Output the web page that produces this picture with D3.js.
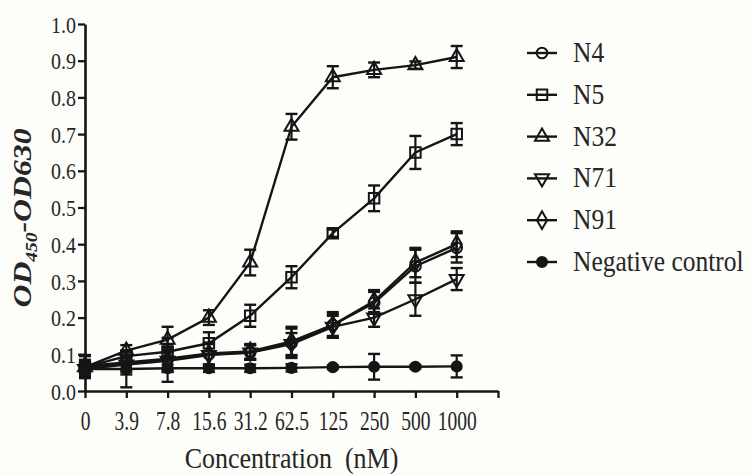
<!DOCTYPE html>
<html><head><meta charset="utf-8">
<script src="https://cdn.jsdelivr.net/npm/d3@7"></script>
<style>body{margin:0;background:#fdfdfa;} svg{display:block;} text{font-family:"Liberation Serif", serif;}</style>
</head><body>
<script>
const categories = ["0","3.9","7.8","15.6","31.2","62.5","125","250","500","1000"];
const yTickValues = [0,0.1,0.2,0.3,0.4,0.5,0.6,0.7,0.8,0.9,1.0];
const seriesNames = ["N4","N5","N32","N71","N91","Negative control"];
const N4  = [0.065,0.075,0.085,0.100,0.105,0.130,0.180,0.240,0.340,0.390];
const N5  = [0.065,0.095,0.107,0.130,0.205,0.310,0.430,0.525,0.650,0.700];
const N32 = [0.065,0.110,0.140,0.200,0.350,0.720,0.855,0.875,0.888,0.910];
const N71 = [0.060,0.072,0.082,0.098,0.105,0.128,0.175,0.200,0.250,0.305];
const N91 = [0.068,0.078,0.088,0.102,0.108,0.135,0.180,0.245,0.350,0.400];
const NEG = [0.060,0.060,0.062,0.062,0.062,0.063,0.065,0.066,0.066,0.067];
const N4err  = [0.03,0.03,0.06,0.03,0.02,0.04,0.03,0.03,0.045,0.04];
const N5err  = [0.02,0.015,0.02,0.03,0.03,0.03,0.01,0.035,0.045,0.03];
const N32err = [0.01,0.015,0.035,0.02,0.035,0.035,0.03,0.02,0.01,0.03];
const N71err = [0.02,0.02,0.03,0.03,0.02,0.03,0.03,0.025,0.045,0.03];
const N91err = [0.03,0.02,0.03,0.03,0.02,0.04,0.035,0.03,0.04,0.035];
const NEGerr = [0.01,0.05,0.01,0.01,0.01,0.01,0.005,0.035,0.005,0.03];

const W=753,H=475, ink="#151515", txt="#262626", font="Liberation Serif";
const svg=d3.select("body").append("svg").attr("width",W).attr("height",H);
svg.append("rect").attr("width",W).attr("height",H).attr("fill","#fdfdfa");

const x=d3.scaleLinear().domain([0,10]).range([85,498]);
const y=d3.scaleLinear().domain([0,1]).range([391,24]);

const symbols=[
  {type:d3.symbolCircle,size:90,rot:0,fill:"none"},
  {type:d3.symbolSquare,size:110,rot:0,fill:"none"},
  {type:d3.symbolTriangle,size:85,rot:0,fill:"none"},
  {type:d3.symbolTriangle,size:85,rot:180,fill:"none"},
  {type:d3.symbolDiamond,size:90,rot:0,fill:"none"},
  {type:d3.symbolCircle,size:80,rot:0,fill:ink}
];
const data=[N4,N5,N32,N71,N91,NEG];
const errs=[N4err,N5err,N32err,N71err,N91err,NEGerr];

// axes
const xAxis=d3.axisBottom(x).tickValues(d3.range(0,11)).tickFormat(i=>categories[i]||"").tickSize(7).tickSizeOuter(0);
const gx=svg.append("g").attr("transform",`translate(0,${y(0)})`).call(xAxis);
gx.attr("font-family",null);
gx.select(".domain").attr("stroke",ink).attr("stroke-width",2.6);
gx.selectAll(".tick line").attr("stroke",ink).attr("stroke-width",2.3);
gx.selectAll(".tick text").attr("fill",txt).style("font-family",font).style("font-size","19.5px")
  .attr("y",39/1.35).attr("dy",0).attr("transform","scale(1,1.35)");

const yAxis=d3.axisLeft(y).tickValues(yTickValues).tickFormat(d3.format(".1f")).tickSize(7).tickSizeOuter(0);
const gy=svg.append("g").attr("transform",`translate(${x(0)},0)`).call(yAxis);
gy.attr("font-family",null);
gy.select(".domain").attr("stroke",ink).attr("stroke-width",2.6);
gy.selectAll(".tick line").attr("stroke",ink).attr("stroke-width",2.3);
gy.selectAll(".tick text").attr("fill",txt).style("font-family",font).style("font-size","20px")
  .attr("x",-9).attr("dy","0.34em").attr("transform","scale(1,1.2)");

// axis titles
svg.append("text").attr("transform",`translate(${(x(0)+x(10))/2},468) scale(1,1.15)`)
  .attr("text-anchor","middle").style("font-family",font).style("font-size","26px").attr("fill",txt)
  .text("Concentration\u00a0 (nM)");
const yt=svg.append("text").attr("transform","translate(31,218) rotate(-90) scale(1.22,1)")
  .attr("text-anchor","middle").style("font-family",font).style("font-size","26px")
  .attr("font-style","italic").attr("font-weight","bold").attr("fill",txt);
yt.append("tspan").text("OD");
yt.append("tspan").style("font-size","16px").attr("dy",6).text("450");
yt.append("tspan").attr("dy",-6).text("-OD630");

// series
const line=d3.line().x((d,i)=>x(i)).y(d=>y(d));
data.forEach((vals,s)=>{
  const g=svg.append("g");
  g.append("path").attr("d",line(vals)).attr("fill","none").attr("stroke",ink).attr("stroke-width",2.4);
  vals.forEach((v,i)=>{
    const e=errs[s][i], cx=x(i);
    g.append("line").attr("x1",cx).attr("x2",cx).attr("y1",y(v-e)).attr("y2",y(v+e)).attr("stroke",ink).attr("stroke-width",2.2);
    [v-e,v+e].forEach(t=>g.append("line").attr("x1",cx-6).attr("x2",cx+6).attr("y1",y(t)).attr("y2",y(t)).attr("stroke",ink).attr("stroke-width",2.4));
  });
  const sym=symbols[s];
  g.selectAll("path.m").data(vals).join("path").attr("class","m")
    .attr("d",d3.symbol().type(sym.type).size(sym.size))
    .attr("transform",(d,i)=>`translate(${x(i)},${y(d)}) rotate(${sym.rot})`)
    .attr("fill",sym.fill).attr("stroke",ink).attr("stroke-width",2);
});

// legend
const lg=svg.append("g");
seriesNames.forEach((n,s)=>{
  const cy=53+s*41.8, sym=symbols[s];
  lg.append("line").attr("x1",527).attr("x2",557).attr("y1",cy).attr("y2",cy).attr("stroke",ink).attr("stroke-width",2.4);
  lg.append("path").attr("d",d3.symbol().type(sym.type).size(sym.size)())
    .attr("transform",`translate(542,${cy}) rotate(${sym.rot})`)
    .attr("fill",sym.fill).attr("stroke",ink).attr("stroke-width",2);
  lg.append("text").attr("transform",`translate(573,${cy+9}) scale(1,1.15)`)
    .style("font-family",font).style("font-size","25.5px").attr("fill",txt).text(n);
});
</script>
</body></html>
